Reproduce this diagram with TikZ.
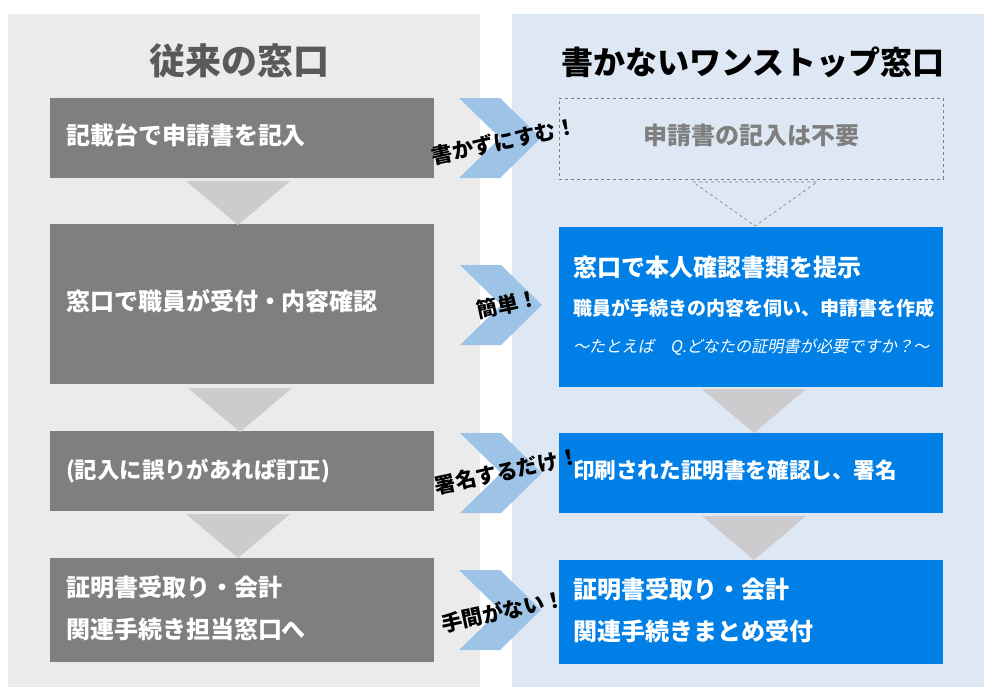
\documentclass[tikz,border=0pt]{standalone}
\usepackage{fontspec}
\setmainfont{Noto Sans CJK JP}
\newfontfamily\slantjp{Noto Sans CJK JP}[FakeSlant=0.2]
\usepackage{tikz}
\usetikzlibrary{positioning}
\definecolor{panelgray}{HTML}{EBEBEB}
\definecolor{panelblue}{HTML}{DEE8F5}
\definecolor{boxgray}{HTML}{7F7F7F}
\definecolor{boxblue}{HTML}{0080E6}
\definecolor{trigray}{HTML}{CDCBCD}
\definecolor{chevblue}{HTML}{9DC3E6}
\newcommand{\jpsize}[2]{\fontsize{#1}{#2}\selectfont}
\tikzset{
	oldbox/.style={fill=boxgray,text=white,font=\bfseries\jpsize{24}{42},text width=352pt,text depth=8pt,inner xsep=16pt,inner ysep=0pt,align=left},
	newbox/.style={fill=boxblue,text=white,font=\bfseries\jpsize{24}{42},text width=356pt,text depth=8pt,inner xsep=14pt,inner ysep=0pt,align=left},
	cheer/.style={font=\bfseries\jpsize{21}{24},rotate=12,inner sep=0pt},
	title/.style={font=\bfseries\jpsize{#1}{#1},inner sep=0pt},
}
\begin{document}
\begin{tikzpicture}[x=1pt,y=-1pt]
	\useasboundingbox (0,0) rectangle (996,694);
	\fill[white] (0,0) rectangle (996,694);
	\fill[panelgray] (8,14) rectangle (480,687);
	\fill[panelblue] (512,14) rectangle (984,687);

	\node[title=36,text={rgb,255:red,89;green,89;blue,89}] (oldtitle) at (239,61) {従来の窓口};
	\node[title=32] (newtitle) at (753,62) {書かないワンストップ窓口};

	\node[oldbox,minimum height=80pt] (old1) at (242,138) {記載台で申請書を記入};
	\node[oldbox,minimum height=160pt] (old2) at (242,304) {窓口で職員が受付・内容確認};
	\node[oldbox,minimum height=80pt,text depth=5pt,font=\bfseries\jpsize{22.4}{42}] (old3) at (242,471) {(記入に誤りがあれば訂正)};
	\node[oldbox,minimum height=104pt,text depth=47pt] (old4) at (242,610) {証明書受取り・会計\\関連手続き担当窓口へ};

	\node[draw=boxgray,dashed,text=boxgray,font=\bfseries\jpsize{24}{26},text depth=8pt,minimum width=384pt,minimum height=81pt,inner sep=0pt] (new1) at (751,138.5) {申請書の記入は不要};
	\node[newbox,minimum height=160pt,text depth=81pt] (new2) at (751,307) {窓口で本人確認書類を提示\\[-3pt]
		{\jpsize{19}{41}\selectfont 職員が手続きの内容を伺い、申請書を作成}\\[-5pt]
		{\slantjp\mdseries\jpsize{16.2}{37}\selectfont ～たとえば　Q.どなたの証明書が必要ですか？～}};
	\node[newbox,minimum height=80pt,font=\bfseries\jpsize{21.6}{42}] (new3) at (751,473) {印刷された証明書を確認し、署名};
	\node[newbox,minimum height=104pt,text depth=47pt] (new4) at (751,612) {証明書受取り・会計\\関連手続きまとめ受付};

	\foreach \tx/\ty in {186/181,188/388,186/514,702/389,702/516}
		\fill[trigray] (\tx,\ty) -- ++(104,0) -- ++(-52,44) -- cycle;
	\draw[boxgray,dashed,line width=0.6pt] (693,182) -- (817,182) -- (755,226) -- cycle;

	\foreach \cx/\cy in {459/98,460/265,460/433,459/570}
		\fill[chevblue] (\cx,\cy) -- ++(41,0) -- ++(41,40) -- ++(-41,40) -- ++(-41,0) -- ++(41,-40) -- cycle;

	\node[cheer] (save1) at (504,141) {書かずにすむ！};
	\node[cheer] (save2) at (508,304) {簡単！};
	\node[cheer] (save3) at (507,471) {署名するだけ！};
	\node[cheer] (save4) at (503,611) {手間がない！};
\end{tikzpicture}
\end{document}
